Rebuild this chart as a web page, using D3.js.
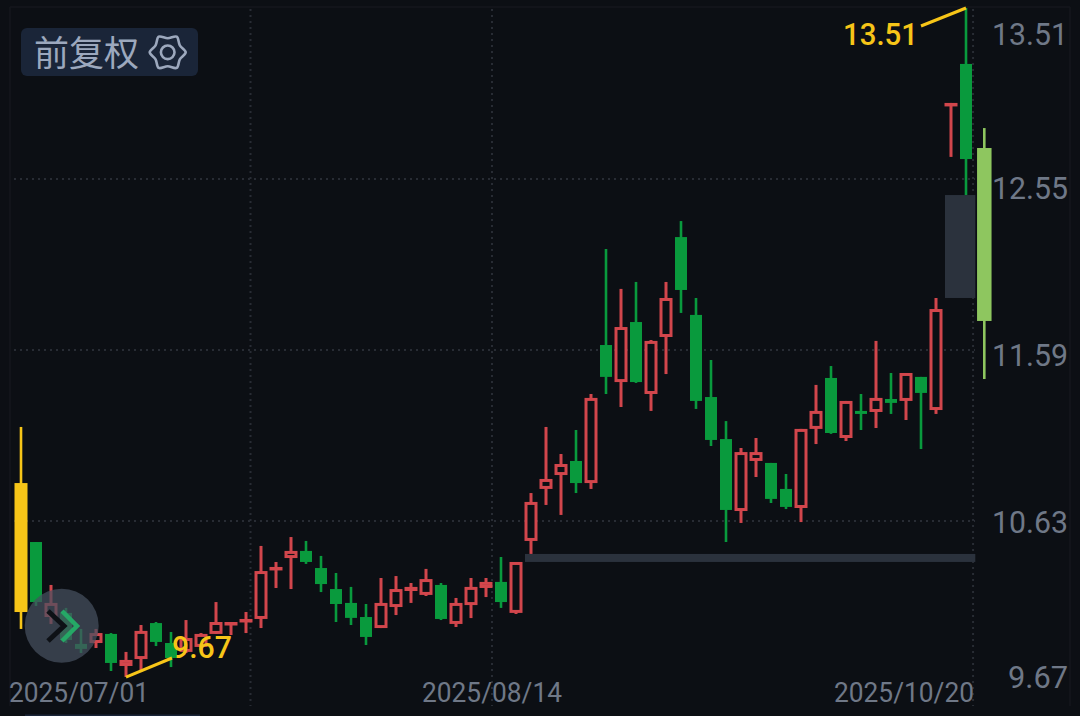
<!DOCTYPE html>
<html><head><meta charset="utf-8">
<script src="https://cdn.jsdelivr.net/npm/d3@7/dist/d3.min.js"></script>
<style>html,body{margin:0;padding:0;background:#0c0f14;overflow:hidden}svg{display:block}</style>
</head><body><svg id="c" width="1080" height="716"></svg>
<script>
const highs=[11.158,10.512,10.271,10.142,10.024,10.024,10.001,9.895,10.046,10.063,10.007,10.074,10.001,10.175,10.063,10.119,10.490,10.400,10.540,10.518,10.434,10.338,10.260,10.164,10.310,10.321,10.282,10.361,10.282,10.198,10.310,10.310,10.428,10.400,10.787,11.158,11.006,11.141,11.343,12.157,11.933,11.972,11.646,11.972,12.314,11.882,11.534,11.191,11.040,11.096,10.956,10.894,11.147,11.394,11.500,11.304,11.343,11.641,11.461,11.461,11.439,11.882,12.977,13.510,12.836];
const lows=[10.024,10.153,10.052,9.945,9.889,9.917,9.788,9.754,9.782,9.928,9.810,9.889,9.906,9.996,9.990,10.001,10.029,10.254,10.248,10.389,10.231,10.063,10.046,9.934,10.029,10.102,10.170,10.209,10.074,10.035,10.085,10.203,10.142,10.108,10.445,10.720,10.664,10.787,10.810,11.343,11.270,11.405,11.248,11.455,11.798,11.259,11.051,10.512,10.619,10.877,10.731,10.697,10.624,11.062,11.119,11.079,11.141,11.152,11.231,11.197,11.034,11.231,12.674,12.460,11.427];
const opens=[10.843,10.512,10.091,10.114,9.940,9.945,9.996,9.816,9.855,10.057,9.945,9.895,9.923,9.996,10.052,10.069,10.080,10.355,10.422,10.462,10.366,10.248,10.170,10.091,10.029,10.147,10.237,10.215,10.271,10.052,10.158,10.254,10.288,10.114,10.518,10.810,10.888,10.967,10.843,11.618,11.410,11.747,11.343,11.663,12.224,11.787,11.326,11.090,10.686,10.967,10.956,10.810,10.703,11.147,11.433,11.096,11.248,11.242,11.315,11.304,11.439,11.253,12.960,13.196,12.724];
const closes=[10.119,10.175,10.170,9.962,9.912,10.001,9.833,9.850,10.013,9.951,9.861,9.973,9.996,10.063,10.063,10.080,10.349,10.372,10.462,10.400,10.276,10.164,10.086,9.979,10.170,10.248,10.260,10.304,10.080,10.170,10.260,10.288,10.175,10.400,10.737,10.866,10.950,10.843,11.321,11.439,11.719,11.410,11.641,11.882,11.927,11.304,11.085,10.692,11.017,11.017,10.754,10.709,11.147,11.248,11.124,11.304,11.231,11.321,11.293,11.461,11.349,11.820,12.977,12.662,11.753];
const priceTicks=[13.51,12.55,11.59,10.63,9.67];
const dateLabels=["2025/07/01","2025/08/14","2025/10/20"];
const dateIndex=[15.3,31.4,63.47];
const markerLabels=["13.51","9.67"];
const gapBands=[[12.460,11.882,61.6,63.62],[10.445,10.400,33.6,63.62]];

const BG="#0c0f14",RED="#d2464c",GREEN="#099a3d",GRID="#282c34",GRAY="#2b323d",AXIS="#6f7887",YEL="#f7c518";
const svg=d3.select("#c");
const y=d3.scaleLinear().domain([13.51,9.67]).range([8,692]);
const x=d3.scaleLinear().domain([0,63]).range([21,966]);
const cx=i=>i===64?984.3:x(i);

svg.append("rect").attr("width",1080).attr("height",716).attr("fill",BG);
// frame
const frame=svg.append("g").attr("stroke","#14171d").attr("stroke-width",1.5);
frame.append("line").attr("x1",10).attr("x2",1070).attr("y1",7).attr("y2",7);
frame.append("line").attr("x1",10).attr("x2",10).attr("y1",7).attr("y2",706);
frame.append("line").attr("x1",1070).attr("x2",1070).attr("y1",7).attr("y2",706);
// grid
const grid=svg.append("g").attr("stroke",GRID).attr("stroke-width",2).attr("stroke-dasharray","2 4");
priceTicks.slice(1,4).forEach(p=>grid.append("line").attr("x1",14).attr("x2",975).attr("y1",y(p)).attr("y2",y(p)));
dateIndex.forEach(i=>grid.append("line").attr("x1",x(i)).attr("x2",x(i)).attr("y1",9).attr("y2",706));

// candles
const idx=d3.range(highs.length);
const special={0:YEL,64:"#8ec65f"};
const g=svg.append("g");
idx.forEach(i=>{
  const up=closes[i]>opens[i],sp=special[i];
  const col=sp||(up?RED:GREEN);
  const top=y(Math.max(opens[i],closes[i])),bot=y(Math.min(opens[i],closes[i]));
  const c=cx(i);
  g.append("line").attr("x1",c).attr("x2",c).attr("y1",y(highs[i])).attr("y2",y(lows[i])).attr("stroke",col).attr("stroke-width",up&&!sp?3:2.6);
  if(sp){
    const w=i===0?13:14.5;
    g.append("rect").attr("x",c-w/2).attr("y",top).attr("width",w).attr("height",bot-top).attr("fill",col);
  }else if(up){
    g.append("rect").attr("x",c-5).attr("y",top+1.5).attr("width",10).attr("height",Math.max(bot-top-3,0.5)).attr("fill",BG).attr("stroke",col).attr("stroke-width",3);
  }else{
    g.append("rect").attr("x",c-6).attr("y",top).attr("width",12).attr("height",Math.max(bot-top,2.5)).attr("fill",col);
  }
});
// grey gap bands
gapBands.forEach(b=>svg.append("rect").attr("x",x(b[2])).attr("width",x(b[3])-x(b[2])).attr("y",y(b[0])).attr("height",y(b[1])-y(b[0])).attr("fill",GRAY));

// price axis
const nudge=[25,8,4,0,-16];
const labelLen=s=>s.length===5?76:60;
const ax=svg.append("g").attr("transform","translate(992,0)").call(d3.axisRight(y).tickValues(priceTicks).tickSize(0).tickPadding(0).tickFormat(d3.format(".2f")));
ax.select(".domain").remove();
ax.selectAll("text").attr("fill",AXIS).attr("font-family","Roboto").attr("font-size",32)
  .attr("dy",(d,i)=>nudge[i]+11.5)
  .attr("x",function(){return 76-labelLen(this.textContent);})
  .attr("textLength",function(){return labelLen(this.textContent);}).attr("lengthAdjust","spacingAndGlyphs");

// date labels
const anchors=["start","middle","end"],dx=[9,492,974];
svg.selectAll(".dl").data(dateLabels).join("text").attr("class","dl").attr("x",(d,i)=>dx[i]).attr("y",702)
  .attr("text-anchor",(d,i)=>anchors[i]).attr("fill",AXIS).attr("font-family","Roboto").attr("font-size",28)
  .attr("textLength",140).attr("lengthAdjust","spacingAndGlyphs").text(d=>d);

// markers
const mk=svg.append("g");
mk.append("line").attr("x1",921).attr("y1",26).attr("x2",cx(63)).attr("y2",y(highs[63])).attr("stroke",YEL).attr("stroke-width",3);
mk.append("text").attr("x",843).attr("y",44.5).attr("fill",YEL).attr("font-family","Roboto").attr("font-weight",500).attr("font-size",32).attr("textLength",75).attr("lengthAdjust","spacingAndGlyphs").text(markerLabels[0]);
mk.append("line").attr("x1",cx(7)).attr("y1",y(lows[7])).attr("x2",172).attr("y2",658).attr("stroke",YEL).attr("stroke-width",3);
mk.append("text").attr("x",172).attr("y",658).attr("fill",YEL).attr("font-family","Roboto").attr("font-weight",500).attr("font-size",32).attr("textLength",60).attr("lengthAdjust","spacingAndGlyphs").text(markerLabels[1]);

// button
svg.append("rect").attr("x",21).attr("y",28).attr("width",177).attr("height",48).attr("rx",6).attr("fill","#1a2538");
svg.append("text").attr("x",34).attr("y",66).attr("fill","#9ca8bd").attr("font-family","Noto Sans CJK SC").attr("font-size",35).text("前复权");
const gearPts=d3.range(12).map(i=>[i*Math.PI/6+Math.PI/2,i%2?14:18]);
const gear=svg.append("g").attr("transform","translate(167.7,52.3)").attr("fill","none").attr("stroke","#9ca8bd").attr("stroke-width",2.6);
gear.append("path").attr("d",d3.lineRadial().curve(d3.curveCatmullRomClosed.alpha(0.5))(gearPts));
gear.append("circle").attr("r",6.8);

// collapse button
svg.append("circle").attr("cx",61.7).attr("cy",625.7).attr("r",37).attr("fill","#46505f").attr("fill-opacity",0.72);
const ln=d3.line();
svg.append("path").attr("d",ln([[48,611],[64,626],[48,641]])).attr("fill","none").attr("stroke","#0e1116").attr("stroke-width",5);
svg.append("path").attr("d",ln([[62,611],[77,626],[62,641]])).attr("fill","none").attr("stroke","#25a866").attr("stroke-width",4.5);
// bottom sliver
svg.append("rect").attr("x",25).attr("y",714.5).attr("width",175).attr("height",1.5).attr("fill","#1a2538");
</script></body></html>
